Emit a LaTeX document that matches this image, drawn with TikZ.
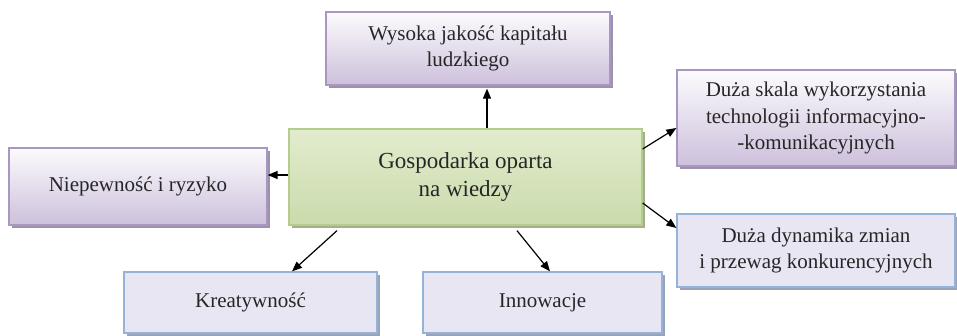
\documentclass[tikz,border=0pt]{standalone}
\usepackage{fontspec}
\setmainfont{Liberation Serif}
\usetikzlibrary{shadows,arrows.meta}
\definecolor{purpline}{HTML}{A997C2}
\definecolor{purptop}{HTML}{FCFBFD}
\definecolor{purpbot}{HTML}{CDC0DC}
\definecolor{purpshadow}{HTML}{9C92AC}
\definecolor{greenline}{HTML}{B4CC8C}
\definecolor{greentop}{HTML}{E2ECCE}
\definecolor{greenmid}{HTML}{F3F7EA}
\definecolor{greenbot}{HTML}{CADBAC}
\definecolor{greenshadow}{HTML}{A3AE8E}
\definecolor{blueline}{HTML}{95B3D7}
\definecolor{bluefill}{HTML}{E8E6F3}
\definecolor{blueshadow}{HTML}{9AA2B6}
\tikzset{
  basebox/.style={rectangle, inner sep=0pt, align=center, line width=1.3pt, text=black!85},
  purplebox/.style={basebox, draw=purpline, top color=purptop, bottom color=purpbot,
     drop shadow={shadow xshift=3pt, shadow yshift=-3pt, fill=purpshadow, opacity=1},
     font=\fontsize{21}{26.5}\selectfont},
  greenbox/.style={basebox, draw=greenline, top color=greentop, middle color=greenmid, bottom color=greenbot,
     drop shadow={shadow xshift=3pt, shadow yshift=-3pt, fill=greenshadow, opacity=1},
     font=\fontsize{23}{28}\selectfont},
  bluebox/.style={basebox, draw=blueline, fill=bluefill,
     drop shadow={shadow xshift=3pt, shadow yshift=-3pt, fill=blueshadow, opacity=1},
     font=\fontsize{21}{25.5}\selectfont},
  conn/.style={line width=1.2pt, -{Triangle[length=10pt,width=8pt]}}
}
\begin{document}
\begin{tikzpicture}[x=1pt,y=-1pt]
\useasboundingbox (0,0) rectangle (957,335);
\node[greenbox, minimum width=353pt, minimum height=96pt] (c) at (465.5,177) {Gospodarka oparta\\na wiedzy};
\node[purplebox, minimum width=284pt, minimum height=73pt] (top) at (468,48.5) {Wysoka jakość kapitału\\ludzkiego};
\node[purplebox, minimum width=258pt, minimum height=77pt] (left) at (138,186.5) {Niepewność i ryzyko};
\node[purplebox, minimum width=278pt, minimum height=96pt] (rt) at (816,118) {Duża skala wykorzystania\\technologii informacyjno-\\-komunikacyjnych};
\node[bluebox, minimum width=278pt, minimum height=73pt] (rb) at (816,250.5) {Duża dynamika zmian\\i przewag konkurencyjnych};
\node[bluebox, minimum width=253pt, minimum height=61pt] (kre) at (250.5,302.5) {Kreatywność};
\node[bluebox, minimum width=239pt, minimum height=61pt] (inn) at (542.5,302.5) {Innowacje};
\draw[conn] ([xshift=21.5pt]c.north) -- ([xshift=19pt,yshift=-3pt]top.south);
\draw[conn] ([yshift=2pt]c.west) -- ([yshift=11.5pt]left.east);
\draw[conn] ([yshift=28pt]c.east) -- ([yshift=-10pt]rt.west);
\draw[conn] ([yshift=-26pt]c.east) -- ([yshift=22.5pt]rb.west);
\draw[conn] ([xshift=-128.5pt,yshift=-5pt]c.south) -- ([xshift=41.5pt]kre.north);
\draw[conn] ([xshift=51.5pt,yshift=-5pt]c.south) -- ([xshift=7.5pt]inn.north);
\end{tikzpicture}
\end{document}
